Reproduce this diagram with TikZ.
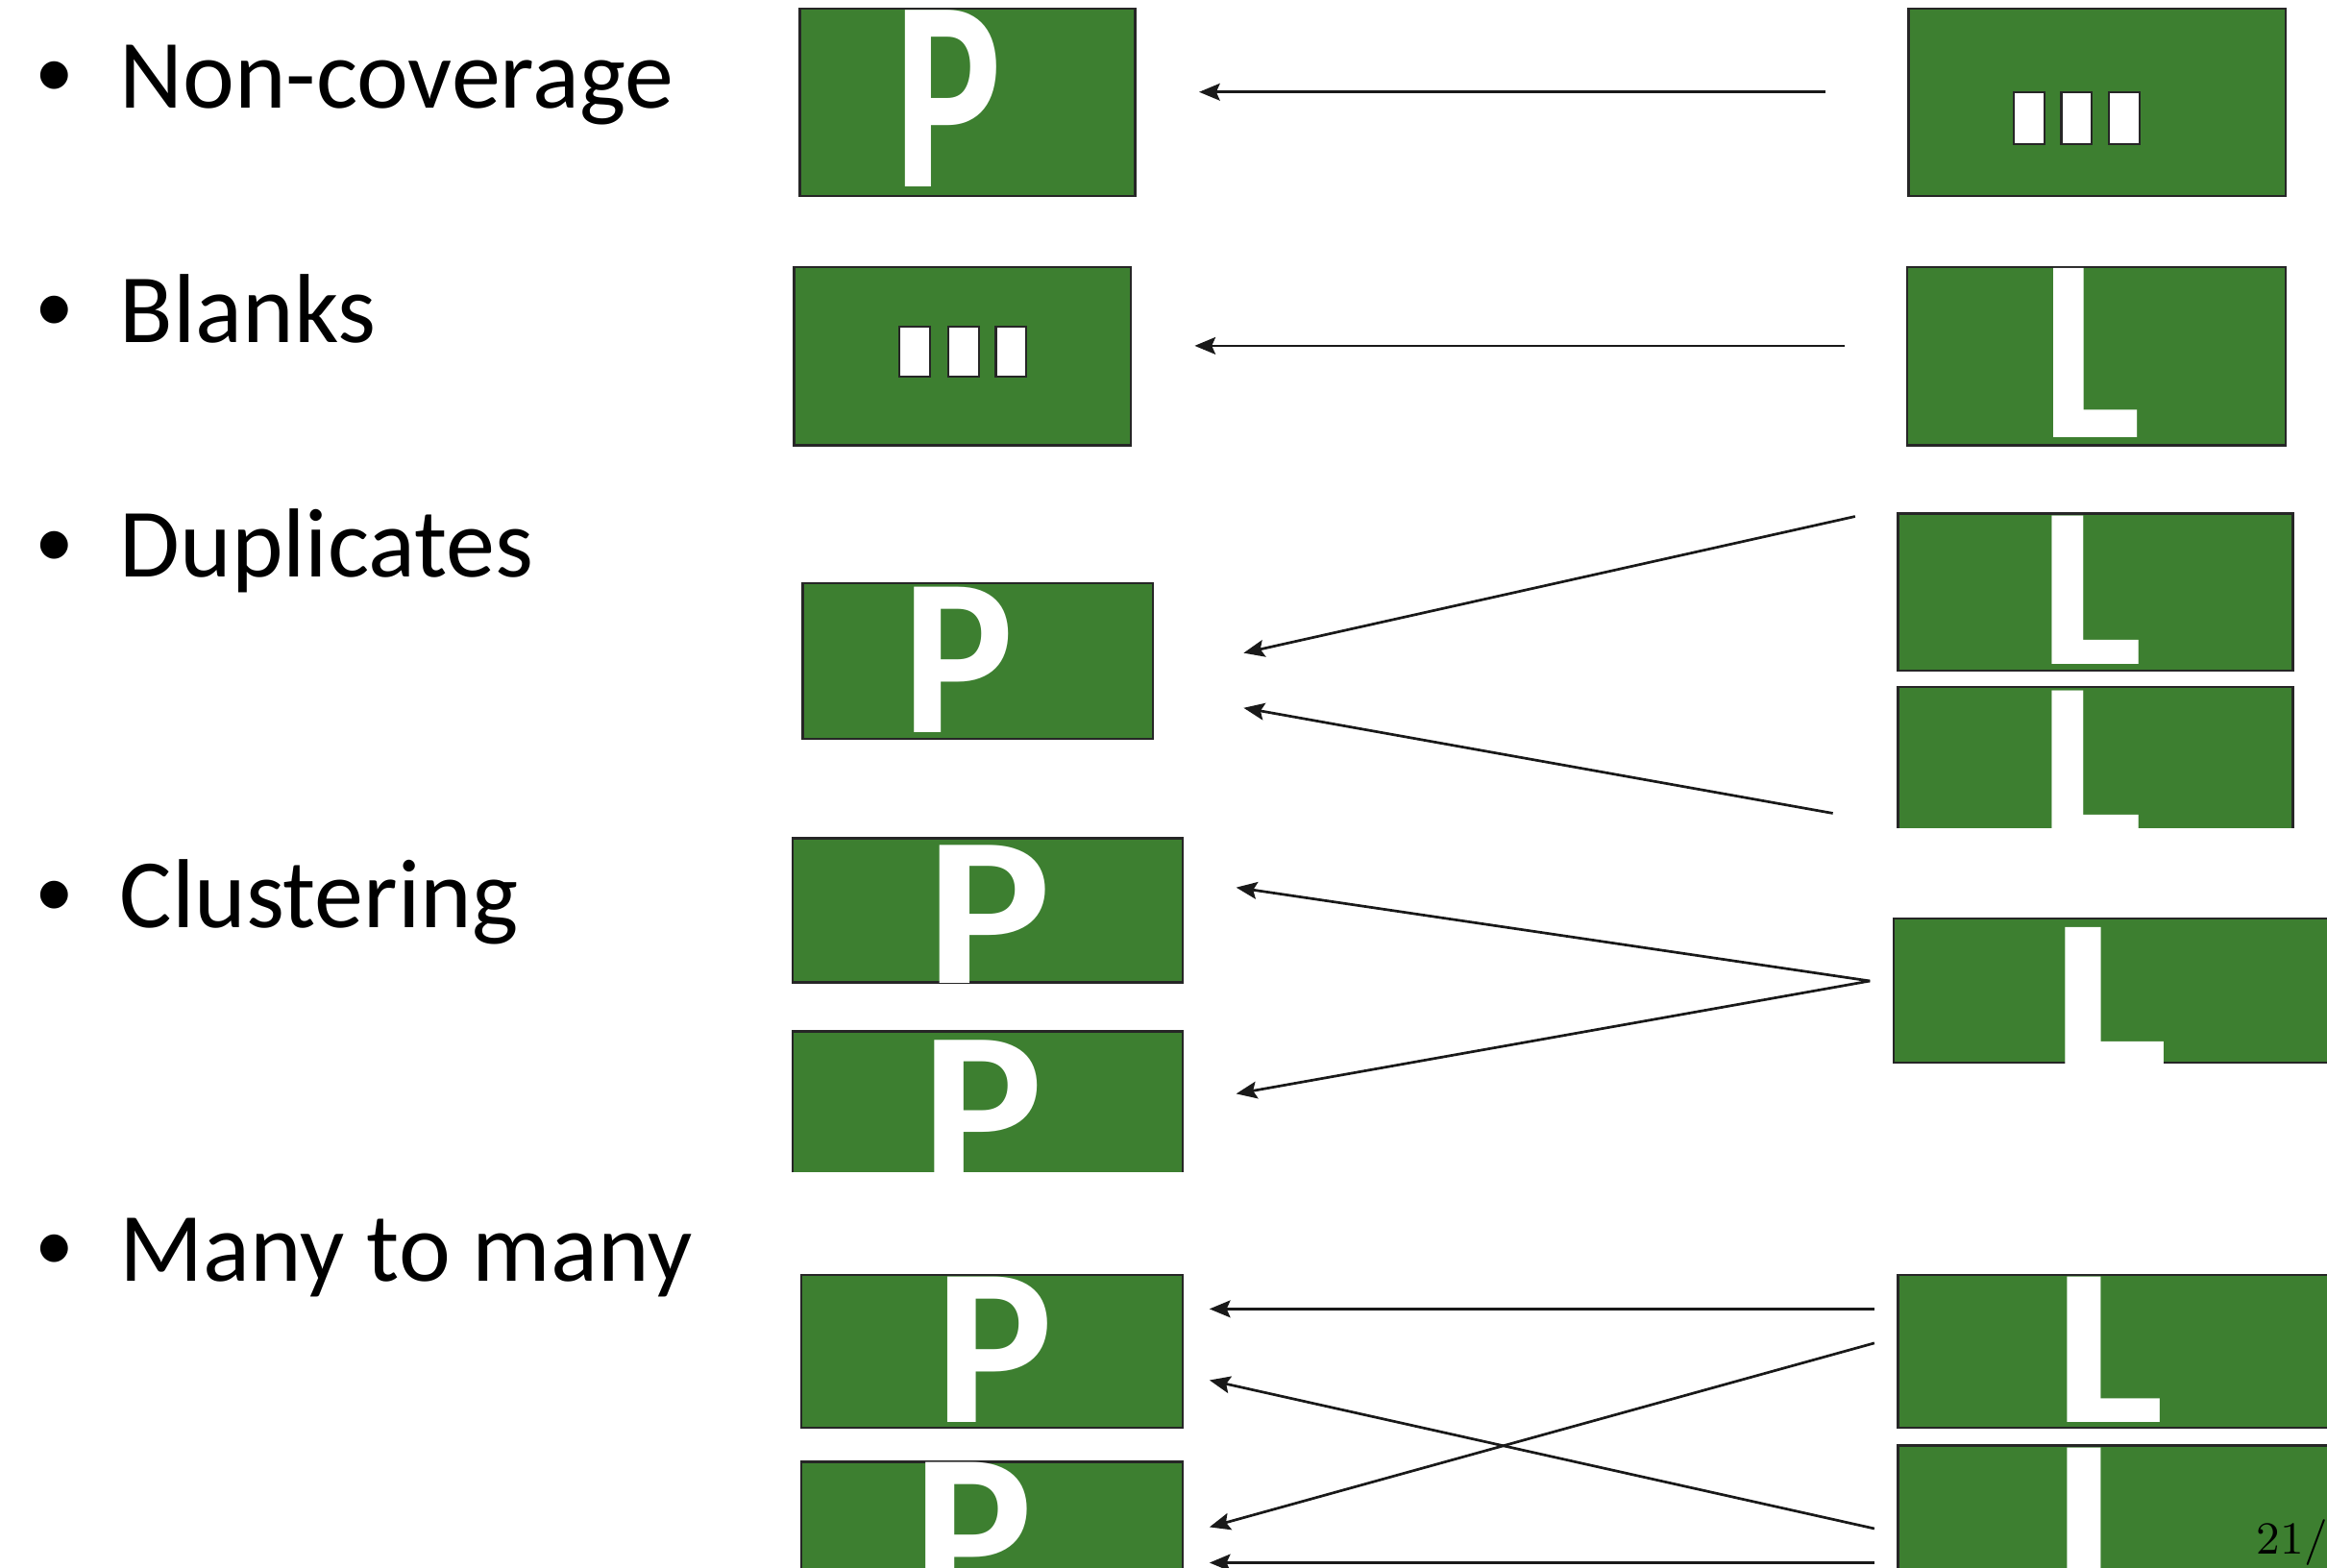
\documentclass[tikz,border=0pt]{standalone}
\usepackage{fontspec}
\usepackage{graphicx}
\newfontfamily\calfont{Carlito}
\usetikzlibrary{arrows.meta}
\definecolor{boxgreen}{RGB}{61,127,48}

\begin{document}
\begin{tikzpicture}[x=0.1mm, y=-0.1mm,
  box/.style={draw=black!85, line width=0.45pt, fill=boxgreen, inner sep=0, outer sep=0, anchor=north west},
  edge/.style={draw=black!85, line width=0.45pt},
  lett/.style={inner sep=0, anchor=north west, text=white, font=\calfont\bfseries},
  bar/.style={draw=black!85, line width=0.4pt, fill=white},
  item/.style={inner sep=0, anchor=base west, font=\calfont\fontsize{18.8}{22}\selectfont},
  dot/.style={inner sep=0, anchor=base, font=\calfont\fontsize{15}{18}\selectfont},
  arr/.style={draw=black!90, line width=0.5pt, -{Stealth[length=1.4mm, width=1.15mm, inset=0.25mm]}}]

\useasboundingbox (0,0) rectangle (1568,1056);

% Bullet list
\node[dot] (d1) at (37,66) {\textbullet};
\node[dot] (d2) at (37,224) {\textbullet};
\node[dot] (d3) at (37,382) {\textbullet};
\node[dot] (d4) at (37,618) {\textbullet};
\node[dot] (d5) at (37,856) {\textbullet};
\node[item] (t1) at (80,73) {Non-coverage};
\node[item] (t2) at (80,231) {Blanks};
\node[item] (t3) at (80,389) {Duplicates};
\node[item] (t4) at (80,625) {Clustering};
\node[item] (t5) at (80,863) {Many to many};

% Non-coverage
\node[box, minimum width=22.6mm, minimum height=12.6mm] (p1) at (539,6) {};
\node[lett] (p1t) at (601.5,6) {\resizebox{7.27mm}{11.9mm}{P}};
\node[box, minimum width=25.4mm, minimum height=12.6mm] (b1) at (1286,6) {};
\foreach \x in {1357,1389,1421}
  \draw[bar] (\x,62) rectangle ++(20.5,35);

% Blanks
\node[box, minimum width=22.7mm, minimum height=12mm] (b2) at (535,180) {};
\foreach \x in {606,639,671}
  \draw[bar] (\x,220) rectangle ++(20.5,34);
\node[box, minimum width=25.5mm, minimum height=12mm] (l1) at (1285,180) {};
\node[lett] (l1t) at (1374.8,180) {\resizebox{6.75mm}{11.4mm}{L}};

% Duplicates
\node[box, minimum width=23.6mm, minimum height=10.5mm] (p2) at (541,393) {};
\node[lett] (p2t) at (607.2,395) {\resizebox{7.5mm}{9.8mm}{P}};
\node[box, minimum width=26.6mm, minimum height=10.6mm] (l2) at (1279,346) {};
\node[lett] (l2t) at (1373.5,347) {\resizebox{6.99mm}{10mm}{L}};
\node[box, draw=none, minimum width=26.6mm, minimum height=9.5mm] (l3) at (1279,463) {};
\begin{scope}
  \clip (l3.north west) rectangle (l3.south east);
  \node[lett] (l3t) at (1373.5,465) {\resizebox{6.99mm}{10mm}{L}};
\end{scope}
\draw[edge] (l3.south west) -- (l3.north west) -- (l3.north east) -- (l3.south east);

% Clustering
\node[box, minimum width=26.3mm, minimum height=9.7mm] (p3) at (534,565) {};
\node[lett] (p3t) at (623.4,569) {\resizebox{8.41mm}{9.3mm}{P}};
\node[box, draw=none, minimum width=26.3mm, minimum height=9.5mm] (p4) at (534,695) {};
\begin{scope}
  \clip (p4.north west) rectangle (p4.south east);
  \node[lett] (p4t) at (620.6,700) {\resizebox{8.18mm}{9.5mm}{P}};
\end{scope}
\draw[edge] (p4.south west) -- (p4.north west) -- (p4.north east) -- (p4.south east);
\node[box, minimum width=32mm, minimum height=9.7mm] (l4) at (1276,619) {};
\node[lett] (l4t) at (1381.2,624) {\resizebox{7.95mm}{9.2mm}{L}};

% Many to many
\node[box, minimum width=25.7mm, minimum height=10.3mm] (p5) at (540,859) {};
\node[lett] (p5t) at (629.8,860) {\resizebox{7.95mm}{9.8mm}{P}};
\node[box, minimum width=25.7mm, minimum height=12mm] (p6) at (540,985) {};
\node[lett] (p6t) at (614.7,985) {\resizebox{8.07mm}{9.8mm}{P}};
\node[box, minimum width=32mm, minimum height=10.3mm] (l5) at (1279,859) {};
\node[lett] (l5t) at (1382.8,860) {\resizebox{7.47mm}{9.8mm}{L}};
\node[box, minimum width=32mm, minimum height=12mm] (l6) at (1279,974) {};
\node[lett] (l6t) at (1382.8,975) {\resizebox{7.47mm}{9.8mm}{L}};

% Arrow ends
\coordinate (s1) at (1230,62);   \coordinate (e1) at (808,62);
\coordinate (s2) at (1243,233);  \coordinate (e2) at (805,233);
\coordinate (s3) at (1250,348);  \coordinate (e3) at (838,440);
\coordinate (s4) at (1235,548);  \coordinate (e4) at (838,477);
\coordinate (s5) at (1260,661);  \coordinate (e5) at (833,598);
\coordinate (s6) at (1260,661);  \coordinate (e6) at (833,737);
\coordinate (s7) at (1263,882);  \coordinate (e7) at (815,882);
\coordinate (s8) at (1263,1030); \coordinate (e8) at (815,930);
\coordinate (s9) at (1263,905);  \coordinate (e9) at (815,1029);
\coordinate (s10) at (1263,1053); \coordinate (e10) at (815,1053);

\foreach \i in {1,...,10}
  \draw[arr] (s\i) -- (e\i);

% Page number
\node[inner sep=0, anchor=base west, font=\fontsize{8.8}{10}\selectfont] (pg) at (1520,1047) {21/};

\end{tikzpicture}
\end{document}
